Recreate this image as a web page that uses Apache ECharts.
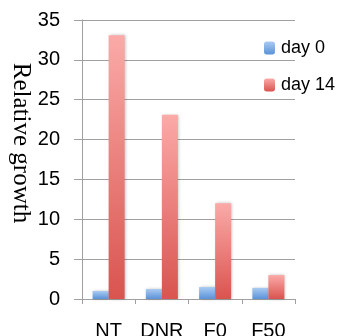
<!DOCTYPE html>
<html><head><meta charset="utf-8">
<script src="https://cdn.jsdelivr.net/npm/echarts@6/dist/echarts.min.js"></script>
<style>html,body{margin:0;padding:0;background:#fff}#c{width:342px;height:336px}</style>
</head><body><div id="c"></div>
<script>
var categories = ['NT', 'DNR', 'F0', 'F50'];
var day0 = [1.0, 1.25, 1.5, 1.4];
var day14 = [33.1, 23.1, 12.0, 3.0];
var seriesNames = ['day 0', 'day 14'];
var yAxisTitle = 'Relative growth';

var chart = echarts.init(document.getElementById('c'));
function grad(top, bottom) {
  return new echarts.graphic.LinearGradient(0, 0, 0, 1, [{offset: 0, color: top}, {offset: 1, color: bottom}]);
}
var sans = 'Liberation Sans, Arial, sans-serif';
chart.setOption({
  animation: false,
  grid: {left: 82, right: 47, top: 20, bottom: 37, containLabel: false, outerBoundsMode: 'none'},
  legend: {
    orient: 'vertical', left: 259, top: 34, itemGap: 19,
    itemWidth: 11, itemHeight: 13,
    textStyle: {fontFamily: sans, fontSize: 18, color: '#000', padding: [0, 0, 0, 1]},
    data: seriesNames
  },
  graphic: [{
    type: 'text', x: 21, y: 143, rotation: -Math.PI / 2,
    style: {text: yAxisTitle, fontFamily: 'Liberation Serif, Times New Roman, serif', fontSize: 25,
            fill: '#000', align: 'center', verticalAlign: 'middle'}
  }],
  xAxis: {
    type: 'category', data: categories,
    axisLine: {lineStyle: {color: '#a0a0a0', width: 1}},
    axisTick: {show: true, length: 5, lineStyle: {color: '#a0a0a0'}},
    axisLabel: {fontFamily: sans, fontSize: 20, color: '#000', margin: 22, interval: 0, hideOverlap: false}
  },
  yAxis: {
    type: 'value', min: 0, max: 35, interval: 5,
    axisLine: {show: true, lineStyle: {color: '#a0a0a0'}},
    axisTick: {show: true, length: 8, lineStyle: {color: '#a0a0a0'}},
    splitLine: {lineStyle: {color: '#a0a0a0', width: 1}},
    axisLabel: {fontFamily: sans, fontSize: 20, color: '#000', margin: 22}
  },
  series: [
    {name: seriesNames[0], type: 'bar', data: day0, barWidth: 16, barGap: '0%',
     itemStyle: {color: grad('#a9cbf2', '#5a92d8'), shadowColor: 'rgba(0,0,0,0.25)', shadowBlur: 3, shadowOffsetX: 1}},
    {name: seriesNames[1], type: 'bar', data: day14, barWidth: 16, barGap: '0%',
     itemStyle: {color: grad('#fbaaa8', '#d9544f'), shadowColor: 'rgba(0,0,0,0.25)', shadowBlur: 3, shadowOffsetX: 1}}
  ]
});
</script></body></html>
